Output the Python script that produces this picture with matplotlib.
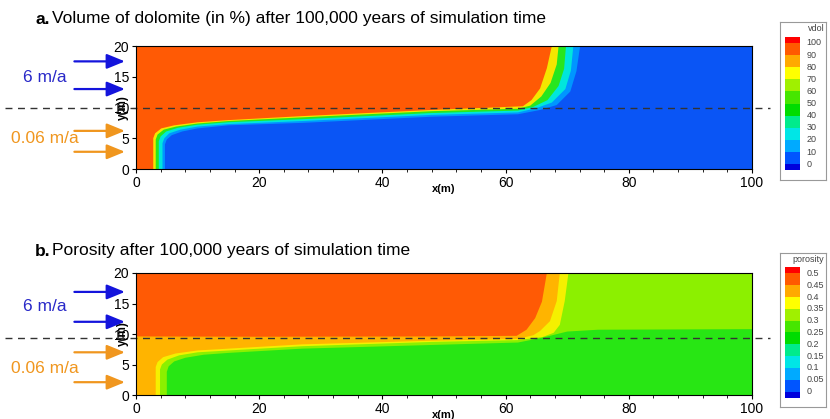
import matplotlib
matplotlib.use("Agg")
import matplotlib.pyplot as plt

plt.rcParams["font.family"] = ["Liberation Sans", "DejaVu Sans"]

# ---------------- DATA ----------------
# panel a: volume of dolomite, contour boundaries (x, y in m), outermost -> innermost
vdol_lightblue_x = [4.7, 4.7, 5.0, 5.8, 7.5, 10, 15, 27, 48, 62, 65.6, 68.3, 70.5, 71.5, 72.1]
vdol_lightblue_y = [0, 4.0, 4.8, 5.5, 6.1, 6.6, 7.1, 7.5, 8.5, 8.9, 9.6, 10.4, 12.6, 15.9, 20]
vdol_cyan_x = [4.3, 4.3, 4.6, 5.4, 7.2, 10, 15, 27, 48, 62, 65, 67.5, 69.7, 70.6, 71.0]
vdol_cyan_y = [0, 4.2, 5.0, 5.8, 6.4, 6.9, 7.3, 7.8, 8.8, 9.2, 9.9, 10.8, 13.0, 16.0, 20]
vdol_green_x = [3.7, 3.7, 4.0, 4.9, 6.8, 10, 15, 27, 48, 62, 64.5, 66.8, 68.6, 69.5, 69.8]
vdol_green_y = [0, 4.5, 5.3, 6.1, 6.7, 7.2, 7.6, 8.1, 9.1, 9.5, 10.1, 11.2, 13.5, 16.3, 20]
vdol_yellow_x = [3.2, 3.2, 3.5, 4.5, 6.5, 10, 15, 27, 48, 62, 64, 65.8, 67.3, 68.3, 68.6]
vdol_yellow_y = [0, 4.8, 5.6, 6.4, 6.9, 7.4, 7.8, 8.4, 9.4, 9.8, 10.3, 11.8, 14.0, 17.0, 20]
vdol_orange_x = [2.8, 2.8, 3.1, 4.1, 6.2, 10, 15, 27, 48, 62.8, 64.2, 65.6, 66.7, 67.5]
vdol_orange_y = [0, 5.0, 5.8, 6.6, 7.1, 7.6, 7.95, 8.6, 9.6, 10.2, 11.2, 13.1, 16.4, 20]

# panel b: porosity
por_green_x = [5.0, 5.0, 5.3, 6.2, 8, 11, 15, 27, 48, 62, 66, 70, 75, 100]
por_green_y = [0, 3.8, 4.7, 5.5, 6.1, 6.6, 6.9, 7.6, 8.2, 8.6, 9.4, 10.4, 10.7, 10.8]
por_yellow_x = [3.9, 3.9, 4.2, 5.1, 7, 10, 15, 27, 48, 62, 66, 67.8, 68.8, 69.6, 70.2]
por_yellow_y = [0, 4.2, 5.0, 5.8, 6.5, 7.0, 7.3, 8.0, 8.7, 9.0, 9.5, 10.2, 11.5, 15.4, 20]
por_orange_x = [3.2, 3.2, 3.5, 4.4, 6.4, 10, 15, 27, 48, 62, 64.5, 65.6, 67.2, 68.3, 68.8]
por_orange_y = [0, 4.6, 5.4, 6.2, 6.8, 7.3, 7.6, 8.3, 8.9, 9.2, 9.8, 10.5, 12.1, 15.4, 20]
por_red_x = [0, 20, 48, 61.8, 63.4, 64.8, 65.9, 66.7]
por_red_y = [9.6, 9.55, 9.6, 9.7, 10.7, 12.6, 15.3, 20]

# legend blocks (top -> bottom)
legend_colors = ["#ff0000", "#ff5a00", "#ffaa00", "#ffff00", "#a0f000", "#46e600",
                 "#00dc00", "#00eb8c", "#00e6e6", "#00aaff", "#0055ff", "#0000dc"]
vdol_labels = ["100", "90", "80", "70", "60", "50", "40", "30", "20", "10", "0"]
vdol_levels = [100, 90, 80, 70, 60, 50, 40, 30, 20, 10, 0]
por_labels = ["0.5", "0.45", "0.4", "0.35", "0.3", "0.25", "0.2", "0.15", "0.1", "0.05", "0"]
por_levels = [0.5, 0.45, 0.4, 0.35, 0.3, 0.25, 0.2, 0.15, 0.1, 0.05, 0]

BLUE_BG = "#0a55f5"
ORANGE = "#ff5a05"


def region(ax, xs, ys, color):
    # fill region on the upper-left side of a boundary curve
    px = [0] + list(xs) + [0]
    py = [ys[0]] + list(ys) + [20]
    if xs[0] != 0:
        px = [0] + px
        py = [0] + py
    ax.fill(px, py, color=color, lw=0)


def setup_axes(ax):
    ax.set_xlim(0, 100)
    ax.set_ylim(0, 20)
    ax.set_xticks([0, 20, 40, 60, 80, 100])
    ax.set_xticks(range(0, 101, 4), minor=True)
    ax.set_yticks([0, 5, 10, 15, 20])
    ax.tick_params(labelsize=10, length=3, pad=2)
    ax.tick_params(which="minor", length=2)
    for s in ax.spines.values():
        s.set_linewidth(0.8)
    ax.set_xlabel("x(m)", fontsize=8, fontweight="bold", labelpad=-4)
    ax.set_ylabel("y(m)", fontsize=8.5, fontweight="bold", labelpad=-11)


def side_arrows(ax, ys, color):
    for y in ys:
        ax.annotate("", xy=(-1.8, y), xytext=(-10, y), xycoords="data",
                    annotation_clip=False,
                    arrowprops=dict(arrowstyle="-|>,head_length=1.1,head_width=0.45",
                                    color=color, lw=1.6,
                                    mutation_scale=10, shrinkA=0, shrinkB=0))


def legend_box(fig, rect, title, labels, levels, step):
    lax = fig.add_axes(rect)
    lax.set_xlim(0, 1)
    top, bot = levels[0], levels[-1]
    lax.set_ylim(bot - 1.3 * step, top + 1.72 * step)
    bottoms = [top] + [lv - step for lv in levels[:-1]] + [bot - step / 2]
    heights = [step / 2] + [step] * (len(levels) - 1) + [step / 2]
    lax.bar([0.27] * len(bottoms), heights, bottom=bottoms, width=0.34,
            color=legend_colors, lw=0)
    for lab, lv in zip(labels, levels):
        lax.text(0.58, lv, lab, fontsize=6.5, color="#444444", va="center", ha="left")
    lax.text(0.96, top + 1.15 * step, title, fontsize=6.5, color="#444444",
             va="center", ha="right")
    lax.set_xticks([])
    lax.set_yticks([])
    for s in lax.spines.values():
        s.set_color("#999999")
        s.set_linewidth(0.8)


def panel_title(fig, y_px, tag, text):
    fig.text(35 / 830, 1 - y_px / 419, tag, fontsize=12.5, fontweight="bold",
             va="center", ha="left")
    fig.text(52 / 830, 1 - y_px / 419, text, fontsize=12.5, va="center", ha="left")


fig = plt.figure(figsize=(8.3, 4.19), dpi=100)

# ---------------- PANEL A ----------------
ax1 = fig.add_axes([136 / 830, 1 - 169 / 419, 616 / 830, 123 / 419])
ax1.fill([0, 100, 100, 0], [0, 0, 20, 20], color=BLUE_BG, lw=0)
region(ax1, vdol_lightblue_x, vdol_lightblue_y, "#0096ff")
region(ax1, vdol_cyan_x, vdol_cyan_y, "#00e6dc")
region(ax1, vdol_green_x, vdol_green_y, "#28e61e")
region(ax1, vdol_yellow_x, vdol_yellow_y, "#f5e600")
region(ax1, vdol_orange_x, vdol_orange_y, ORANGE)
setup_axes(ax1)
ax1.plot([-21.3, 102.9], [10, 10], ls=(0, (5, 4)), color="#333333", lw=1,
         clip_on=False)
side_arrows(ax1, [17.5, 13.0], "#1414dc")
side_arrows(ax1, [6.2, 2.8], "#f0961e")
ax1.text(-14.8, 14.8, "6 m/a", color="#2828c8", fontsize=12.5, ha="center",
         va="center")
ax1.text(-14.8, 4.9, "0.06 m/a", color="#f0961e", fontsize=12.5, ha="center",
         va="center")
panel_title(fig, 19, "a.", "Volume of dolomite (in %) after 100,000 years of simulation time")

# ---------------- PANEL B ----------------
ax2 = fig.add_axes([136 / 830, 1 - 395 / 419, 616 / 830, 122 / 419])
ax2.fill([0, 100, 100, 0], [0, 0, 20, 20], color="#8cf000", lw=0)
ax2.fill([0] + por_green_x + [100], [0] + por_green_y + [0], color="#28e614", lw=0)
region(ax2, por_yellow_x, por_yellow_y, "#f5f000")
region(ax2, por_orange_x, por_orange_y, "#ffb400")
ax2.fill(por_red_x + [0], por_red_y + [20], color=ORANGE, lw=0)
setup_axes(ax2)
ax2.plot([-21.3, 102.9], [9.3, 9.3], ls=(0, (5, 4)), color="#333333", lw=1,
         clip_on=False)
side_arrows(ax2, [16.9, 12.0], "#1414dc")
side_arrows(ax2, [7.0, 2.1], "#f0961e")
ax2.text(-14.8, 14.5, "6 m/a", color="#2828c8", fontsize=12.5, ha="center",
         va="center")
ax2.text(-14.8, 4.4, "0.06 m/a", color="#f0961e", fontsize=12.5, ha="center",
         va="center")
panel_title(fig, 251, "b.", "Porosity after 100,000 years of simulation time")

# ---------------- LEGENDS ----------------
legend_box(fig, [780 / 830, 1 - 180 / 419, 46 / 830, 158 / 419], "vdol",
           vdol_labels, vdol_levels, 10)
legend_box(fig, [780 / 830, 1 - 407 / 419, 46 / 830, 154 / 419], "porosity",
           por_labels, por_levels, 0.05)

fig.savefig("out.png", dpi=100)
